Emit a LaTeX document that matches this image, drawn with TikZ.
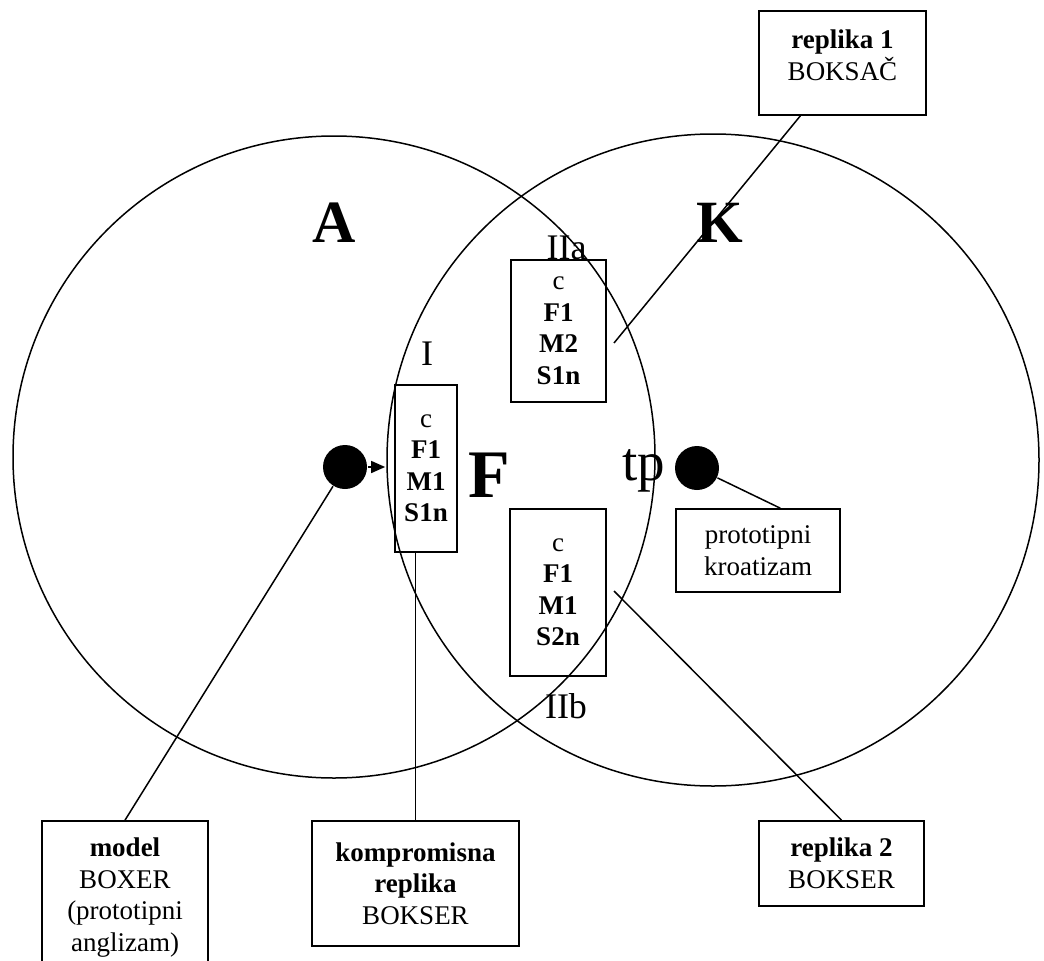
\documentclass[tikz,border=0pt]{standalone}
\usepackage{fontspec}
\setmainfont{Liberation Serif}
\usetikzlibrary{arrows.meta}
\usetikzlibrary{calc}
\usetikzlibrary{positioning}

\tikzset{
  kutija/.style={draw, line width=1.7pt, align=center, inner sep=0pt,
    font=\fontsize{27}{31.5}\selectfont},
  tocka/.style={circle, fill, minimum size=44, inner sep=0pt},
  slovo/.style={anchor=base, inner sep=0pt, font=\fontsize{60}{60}\selectfont\bfseries},
  oznaka/.style={anchor=base, inner sep=0pt, font=\fontsize{36}{36}\selectfont},
}

\begin{document}
\begin{tikzpicture}[x=1pt, y=-1pt, line width=1.5pt, >={Triangle[length=14pt,width=12pt]}]
  \clip (0,0) rectangle (1044,961);

  % the two circles
  \draw (334,457) circle (321);
  \draw (713,460) circle (326);

  \node [slovo] (A) at (334,242) {A};
  \node [slovo] (K) at (720,242) {K};
  \node [slovo, font=\fontsize{68}{68}\selectfont\bfseries] (F) at (489,497) {F};
  \node [oznaka, font=\fontsize{55}{55}\selectfont] (tp) at (644,480) {tp};

  \node [tocka] (dotA) at (345,467) {};
  \node [tocka] (dotK) at (697,468) {};

  % boxes in the overlap
  \node [kutija, minimum width=62, minimum height=167] (boxI) at (426,468.5)
    {c\\\textbf{F1}\\\textbf{M1}\\\textbf{S1n}};
  \node [kutija, minimum width=95, minimum height=142] (boxIIa) at (558.5,331)
    {c\\\textbf{F1}\\\textbf{M2}\\\textbf{S1n}};
  \node [kutija, minimum width=96, minimum height=167] (boxIIb) at (558,592.5)
    {c\\\textbf{F1}\\\textbf{M1}\\\textbf{S2n}};

  \node [oznaka] (lI)   at ($(boxI.north)+(1,-19)$) {I};
  \node [oznaka] (lIIa) at ($(boxIIa.north)+(8,0)$) {IIa};
  \node [oznaka] (lIIb) at ($(boxIIb.south)+(8,42)$) {IIb};

  % boxes outside
  \node [kutija, minimum width=167, minimum height=104, text depth=16pt] (rep1) at (842.5,63)
    {\textbf{replika 1}\\BOKSAČ};
  \node [kutija, minimum width=164, minimum height=83] (kroat) at (758,550.5)
    {prototipni\\kroatizam};
  \node [kutija, minimum width=165, minimum height=85] (rep2) at (841.5,863.5)
    {\textbf{replika 2}\\BOKSER};
  \node [kutija, minimum width=166, minimum height=153] (model) at (125,897.5)
    {\textbf{model}\\BOXER\\(prototipni\\anglizam)};
  \node [kutija, minimum width=207, minimum height=125] (komp) at (415.5,883.5)
    {\textbf{kompromisna}\\\textbf{replika}\\BOKSER};

  \coordinate (r1kraj) at (614,343);
  \coordinate (r2kraj) at (614,591);

  \draw [->, shorten >=9pt] (dotA) -- (dotA -| boxI.west);
  \draw (dotA) -- (model.north);
  \draw (komp.north) -- (komp.north |- boxI.south);
  \draw (dotK) -- ($(kroat.north west)!0.634!(kroat.north east)$);
  \draw ($(rep1.south west)!0.25!(rep1.south east)$) -- (r1kraj);
  \draw (rep2.north) -- (r2kraj);

\end{tikzpicture}
\end{document}
